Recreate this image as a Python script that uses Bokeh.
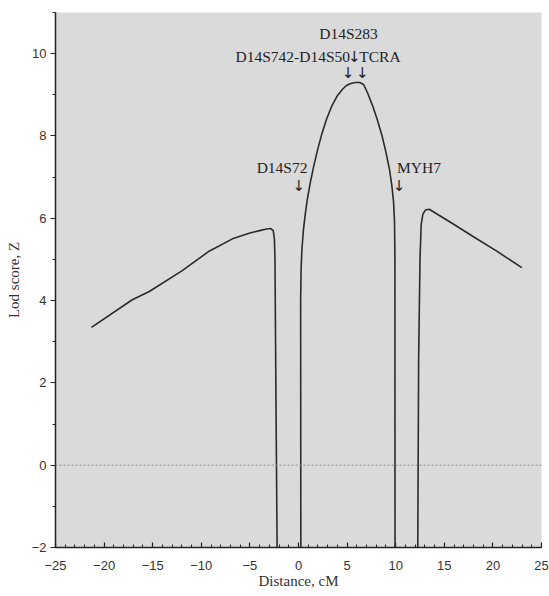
from bokeh.plotting import figure
from bokeh.models import Range1d, FixedTicker, Span
from bokeh.core.properties import value
from bokeh.embed import file_html
from bokeh.resources import INLINE

# Lod score curve, three branches (distance in cM, lod score Z)
left_x = [-21.3, -17.1, -15.35, -12.0, -9.2, -6.8, -5.0, -4.0, -3.3, -2.85, -2.6, -2.48, -2.42, -2.3, -2.2]
left_lod = [3.35, 4.02, 4.22, 4.72, 5.2, 5.5, 5.64, 5.7, 5.74, 5.75, 5.7, 5.5, 5.0, 1.0, -2.0]

mid_x = [0.24, 0.22, 0.27, 0.36, 0.5, 0.67, 0.9, 1.2, 1.55, 1.95, 2.4, 2.9, 3.45, 4.0, 4.5, 4.9,
         5.3, 5.8, 6.3, 6.7, 7.1, 7.6, 8.1, 8.6, 9.0, 9.35, 9.6, 9.78, 9.88, 9.92, 9.93]
mid_lod = [-2.0, 4.0, 4.8, 5.27, 5.7, 6.05, 6.45, 6.85, 7.25, 7.65, 8.05, 8.42, 8.74, 8.98, 9.13, 9.22,
           9.27, 9.3, 9.3, 9.25, 9.05, 8.75, 8.4, 8.0, 7.6, 7.2, 6.8, 6.4, 5.9, 5.0, -2.0]

right_x = [12.27, 12.36, 12.5, 12.62, 12.8, 13.05, 13.45, 15.8, 18.0, 20.4, 22.98]
right_lod = [-2.0, 2.6, 5.0, 5.85, 6.1, 6.2, 6.22, 5.88, 5.55, 5.2, 4.8]

x_ticks = [-25, -20, -15, -10, -5, 0, 5, 10, 15, 20, 25]
y_ticks = [-2, 0, 2, 4, 6, 8, 10]

# marker annotations
center_labels = ["D14S283", "D14S72", "MYH7"]
center_label_x = [5.15, -1.69, 12.4]
center_label_y = [10.5, 7.24, 7.24]

arrow_x = [5.1, 6.55, 0.03, 10.34, 5.75]
arrow_y = [9.54, 9.54, 6.78, 6.78, 9.93]

right_aligned_labels = ["D14S742-D14S50"]
right_aligned_x = [5.3]
right_aligned_y = [9.93]

left_aligned_labels = ["TCRA"]
left_aligned_x = [6.25]
left_aligned_y = [9.93]

p = figure(width=549, height=594, output_backend="svg", toolbar_location=None,
           x_range=Range1d(-25, 25), y_range=Range1d(-2, 11),
           min_border_left=55, min_border_right=8, min_border_top=12,
           min_border_bottom=47)
p.background_fill_color = "#dadada"
p.border_fill_color = "white"
p.outline_line_color = None
p.grid.visible = False

p.add_layout(Span(location=0, dimension="width", line_color="#8a8a8a",
                  line_dash="2 2", line_width=1))

for xs, ys in [(left_x, left_lod), (mid_x, mid_lod), (right_x, right_lod)]:
    p.line(xs, ys, line_color="#2b2b2b", line_width=1.6, line_join="round")

serif = value("Liberation Serif")
p.text(x=center_label_x, y=center_label_y, text=center_labels, text_font=serif,
       text_font_size="15.5px", text_align="center", text_baseline="middle",
       text_color="#222222")
p.text(x=arrow_x, y=arrow_y, text=["\u2193"] * len(arrow_x),
       text_font=value("DejaVu Sans"),
       text_font_size="15px", text_align="center", text_baseline="middle",
       text_color="#222222")
p.text(x=right_aligned_x, y=right_aligned_y, text=right_aligned_labels,
       text_font=serif, text_font_size="15.5px", text_align="right",
       text_baseline="middle", text_color="#222222")
p.text(x=left_aligned_x, y=left_aligned_y, text=left_aligned_labels,
       text_font=serif, text_font_size="15.5px", text_align="left",
       text_baseline="middle", text_color="#222222")

p.xaxis.ticker = FixedTicker(ticks=x_ticks, minor_ticks=list(range(-25, 26)))
p.yaxis.ticker = FixedTicker(ticks=y_ticks, minor_ticks=list(range(-2, 12)))

for ax in (p.xaxis, p.yaxis):
    ax.axis_line_color = "#222222"
    ax.axis_line_width = 1.5
    ax.major_tick_line_color = "#222222"
    ax.minor_tick_line_color = "#222222"
    ax.major_tick_line_width = 1.2
    ax.minor_tick_line_width = 1.0
    ax.major_label_text_font = "Liberation Sans"
    ax.major_label_text_font_size = "13px"
    ax.major_label_text_color = "#333333"
    ax.axis_label_text_font = "Liberation Serif"
    ax.axis_label_text_font_size = "15px"
    ax.axis_label_text_font_style = "normal"
    ax.axis_label_text_color = "#333333"

p.xaxis.axis_label = "Distance, cM"
p.xaxis.major_tick_in = 5
p.xaxis.major_tick_out = 0
p.xaxis.minor_tick_in = 3
p.xaxis.minor_tick_out = 0
p.xaxis.major_label_standoff = 13
p.xaxis.axis_label_standoff = 0

p.yaxis.axis_label = "Lod score, Z"
p.yaxis.major_tick_in = 0
p.yaxis.major_tick_out = 5
p.yaxis.minor_tick_in = 0
p.yaxis.minor_tick_out = 3
p.yaxis.major_label_standoff = 4
p.yaxis.axis_label_standoff = 7

open("out.html", "w").write(file_html(p, INLINE))
